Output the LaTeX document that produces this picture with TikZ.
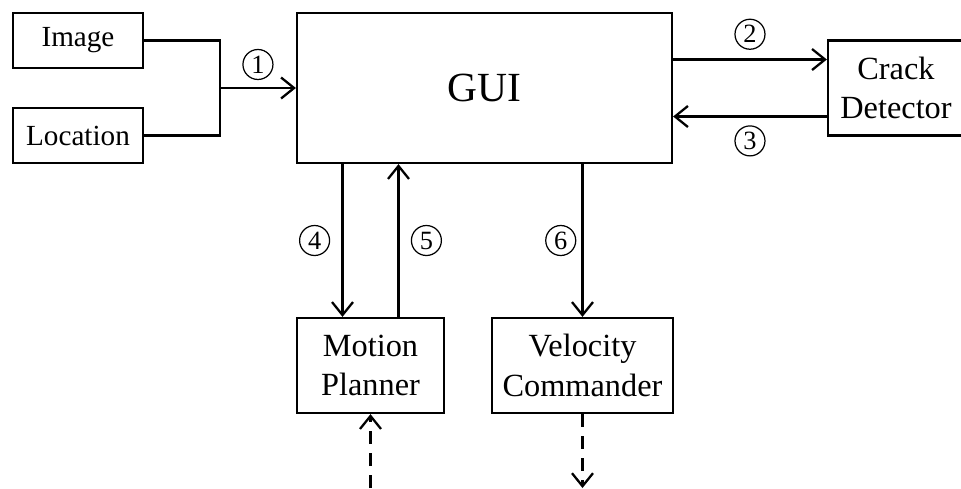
\documentclass[tikz,border=0pt]{standalone}
\usepackage{fontspec}
\setmainfont{Liberation Serif}
\usetikzlibrary{arrows.meta}
\newcommand{\px}{0.02cm}

\begin{document}
\begin{tikzpicture}[x=\px, y=-\px,
    block/.style={draw, rectangle, line width=1.3pt, inner sep=0pt, align=center, font=\fontsize{18.4}{22.5}\selectfont},
    small/.style={font=\fontsize{16.6}{20}\selectfont},
    num/.style={draw, circle, line width=0.7pt, inner sep=0pt, minimum size=0.6cm, font=\fontsize{15}{15}\selectfont},
    arr/.style={line width=1.3pt, -{Straight Barb[length=0.26cm, width=0.42cm]}},
    dasharr/.style={arr, dash pattern=on 0.26cm off 0.18cm}]
    \useasboundingbox (0,0) rectangle (961,488);

    % Inputs
    \node[block, small, minimum width=2.6cm, minimum height=1.1cm] (image) at (78,40.5) {Image};
    \node[block, small, minimum width=2.6cm, minimum height=1.1cm] (location) at (78,135.5) {Location};

    % Top row
    \node[block, font=\fontsize{23.6}{28}\selectfont, minimum width=7.5cm, minimum height=3cm] (gui) at (484.5,88) {GUI};
    \node[block, minimum width=2.72cm, minimum height=1.9cm] (crack) at (896,88) {Crack\\Detector};

    % Bottom row
    \node[block, minimum width=2.94cm, minimum height=1.9cm] (motion) at (370.5,365.5) {Motion\\Planner};
    \node[block, minimum width=3.62cm, minimum height=1.9cm] (velocity) at (582.5,365.5) {Velocity\\Commander};

    \coordinate (join) at (220,88);
    \coordinate (m4) at ([xshift=-0.56cm]motion.north);
    \coordinate (m5) at ([xshift=0.56cm]motion.north);
    \coordinate (plan-in) at (370.5,488);
    \coordinate (vel-out) at (582.5,488);

    % Connections
    \draw[line width=1.3pt] (image.east) -| (join) |- (location.east);
    \draw[arr] (join) -- (gui.west) node[num, midway, above=4.5pt] {1};
    \draw[arr] ([yshift=0.57cm]gui.east) -- ([yshift=0.57cm]crack.west) node[num, midway, above=5.5pt] {2};
    \draw[arr] ([yshift=-0.57cm]crack.west) -- ([yshift=-0.57cm]gui.east) node[num, midway, below=5pt] {3};
    \draw[arr] (m4 |- gui.south) -- (m4) node[num, midway, left=7pt] {4};
    \draw[arr] (m5) -- (m5 |- gui.south) node[num, midway, right=7pt] {5};
    \draw[arr] (velocity.north |- gui.south) -- (velocity.north) node[num, midway, left=3.5pt] {6};
    \draw[dasharr] (plan-in) -- (motion.south);
    \draw[dasharr] (velocity.south) -- (vel-out);

\end{tikzpicture}
\end{document}
